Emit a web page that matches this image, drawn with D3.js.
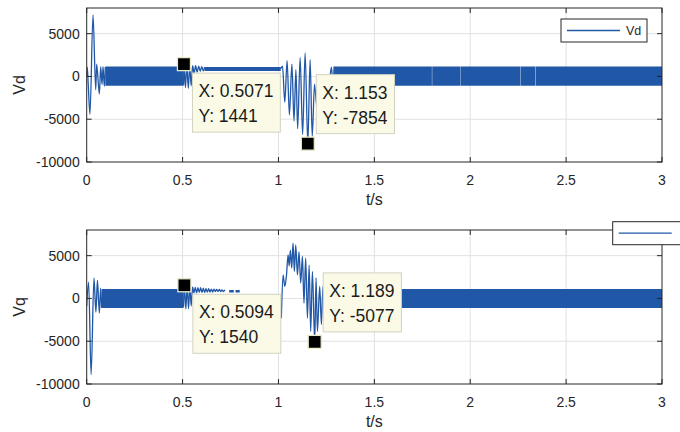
<!DOCTYPE html>
<html>
<head>
<meta charset="utf-8">
<script src="https://cdn.jsdelivr.net/npm/d3@7"></script>
<style>
  html, body { margin: 0; padding: 0; background: #fff; }
  svg { display: block; }
</style>
</head>
<body>
<svg id="chart" width="680" height="432"></svg>
<script>
// ---- data -------------------------------------------------------------
const timeTicks  = [0, 0.5, 1, 1.5, 2, 2.5, 3];
const timeLabels = ["0", "0.5", "1", "1.5", "2", "2.5", "3"];
const valueTicks = [-10000, -5000, 0, 5000];
const valueLabels = ["-10000", "-5000", "0", "5000"];

// Vd: resolved stretches of the waveform, [t (s), value]
const vdStartup = [[0,0],[0.003,1100],[0.008,-950],[0.017,-4400],[0.033,7200],[0.047,-1550],[0.052,1450],
  [0.066,-2050],[0.073,1150],[0.080,-950],[0.085,1150],[0.092,-1150],[0.097,1100]];
const vdStep = [[0.505,-1000],[0.5071,1441],[0.515,-1300],[0.522,1300],[0.530,-1400],[0.537,1250],[0.545,-1100],
  [0.552,1250],[0.560,400],[0.568,1250],[0.576,500],[0.584,1200],[0.592,600],[0.600,1150],[0.608,650],[0.615,1100]];
const vdFault = [[1.012,900],[1.021,1200],[1.033,-3000],[1.045,1850],[1.057,-4500],[1.070,1450],[1.081,-5200],
  [1.091,800],[1.100,-6100],[1.113,2200],[1.126,-6800],[1.139,2750],[1.153,-7854],[1.165,1950],[1.176,-7000],
  [1.188,-900],[1.200,-3500],[1.215,-200],[1.230,-2600],[1.245,-300],[1.260,-1800],[1.276,1100],[1.285,-1000],[1.290,1150]];
// Vd: stretches of fast ripple, [t from, t to, low, high]
const vdRipple = [[0.097,0.505,-1080,1150],[0.615,1.012,650,1100],
  [1.290,1.800,-1080,1150],[1.8018,1.950,-1080,1150],[1.9518,2.260,-1080,1150],
  [2.2618,2.340,-1080,1150],[2.3418,3.000,-1080,1150]];

// Vq
const vqStartup = [[0,-900],[0.010,1900],[0.023,-8900],[0.038,2400],[0.048,-1600],[0.056,2100],[0.066,-1700],
  [0.073,1200],[0.078,-1100]];
const vqStep = [[0.505,-1000],[0.5094,1540],[0.517,-1230],[0.524,1450],[0.531,-1200],[0.538,1350],[0.545,-900],
  [0.552,1350],[0.559,650],[0.566,1300],[0.573,650],[0.580,1250],[0.587,700],[0.594,1250],[0.601,700],[0.608,1200],
  [0.615,700],[0.622,1150],[0.629,750],[0.636,1150],[0.643,750],[0.650,1100],[0.657,750],[0.664,1100],[0.671,800],
  [0.678,1050],[0.685,800],[0.692,1050],[0.699,800],[0.706,1000],[0.713,800],[0.720,1000]];
const vqFault = [[1.015,-2300],[1.024,2750],[1.033,1400],[1.042,2750],[1.050,5100],[1.056,3800],[1.062,5650],
  [1.069,3550],[1.076,6450],[1.083,3150],[1.090,6250],[1.099,2750],[1.107,5450],[1.116,1800],[1.125,4900],
  [1.133,-550],[1.142,4700],[1.151,-2300],[1.160,3900],[1.168,-3850],[1.177,3150],[1.189,-5077],[1.196,2400],
  [1.203,-3850],[1.215,1400],[1.224,-3050],[1.232,1400],[1.242,-2500],[1.252,1100],[1.262,-1800],[1.272,1000],
  [1.282,-1200],[1.286,1100]];
const vqRipple = [[0.078,0.505,-1120,1100],[0.743,0.767,700,1000],[0.776,0.798,700,1000],
  [1.286,3.000,-1120,1100]];

// data tips: [t, value]
const vdTips = [[0.5071,1441],[1.153,-7854]];
const vqTips = [[0.5094,1540],[1.189,-5077]];

// ---- layout -----------------------------------------------------------
const FONT = '"Liberation Sans", Arial, Helvetica, sans-serif';
const LINE = "#2157a7";
const AXIS = "#262626";
const GRID = "#e1e1e1";

const left = 86.7, right = 662;
const panels = [
  { top: 8,   bottom: 162, name: "Vd", paths: [vdStartup, vdStep, vdFault], ripple: vdRipple, tips: vdTips,
    tipSide: ["below", "above"], legend: { x: 561, y: 19, w: 86, showText: true } },
  { top: 230, bottom: 384, name: "Vq", paths: [vqStartup, vqStep, vqFault], ripple: vqRipple, tips: vqTips,
    tipSide: ["below", "above"], legend: { x: 612.7, y: 221.7, w: 86, showText: false } }
];

const svg = d3.select("#chart");
const x = d3.scaleLinear().domain([0, 3]).range([left, right]);

panels.forEach((p, i) => {
  const y = d3.scaleLinear().domain([-10000, 8000]).range([p.bottom, p.top]);
  const g = svg.append("g");

  // grid
  g.append("g").selectAll("line").data(timeTicks.slice(1, -1)).join("line")
    .attr("x1", d => x(d)).attr("x2", d => x(d))
    .attr("y1", p.top).attr("y2", p.bottom)
    .attr("stroke", GRID).attr("stroke-width", 1);
  g.append("g").selectAll("line").data(valueTicks.slice(1)).join("line")
    .attr("x1", left).attr("x2", right)
    .attr("y1", d => y(d)).attr("y2", d => y(d))
    .attr("stroke", GRID).attr("stroke-width", 1);

  // clip for the waveform
  const clipId = "clip" + i;
  svg.append("clipPath").attr("id", clipId).append("rect")
    .attr("x", left).attr("y", p.top).attr("width", right - left).attr("height", p.bottom - p.top);

  const data = g.append("g").attr("clip-path", `url(#${clipId})`);

  // fast ripple bands
  const band = d3.area()
    .x(d => x(d.t)).y0(d => y(d.lo)).y1(d => y(d.hi));
  data.selectAll("path.band").data(p.ripple).join("path")
    .attr("class", "band")
    .attr("d", r => band([{ t: r[0], lo: r[2], hi: r[3] }, { t: r[1], lo: r[2], hi: r[3] }]))
    .attr("fill", LINE);

  // resolved waveform
  const line = d3.line().x(d => x(d[0])).y(d => y(d[1])).curve(d3.curveMonotoneX);
  data.selectAll("path.wave").data(p.paths).join("path")
    .attr("class", "wave")
    .attr("d", line)
    .attr("fill", "none").attr("stroke", LINE).attr("stroke-width", 1.3)
    .attr("stroke-linejoin", "round");

  // axes box
  g.append("rect").attr("x", left).attr("y", p.top)
    .attr("width", right - left).attr("height", p.bottom - p.top)
    .attr("fill", "none").attr("stroke", AXIS).attr("stroke-width", 1);

  // tick marks on all four sides, pointing inward
  const tl = 5;
  const xt = g.append("g").attr("stroke", AXIS).attr("stroke-width", 1);
  timeTicks.forEach(t => {
    xt.append("line").attr("x1", x(t)).attr("x2", x(t)).attr("y1", p.bottom).attr("y2", p.bottom - tl);
    xt.append("line").attr("x1", x(t)).attr("x2", x(t)).attr("y1", p.top).attr("y2", p.top + tl);
  });
  valueTicks.forEach(v => {
    xt.append("line").attr("x1", left).attr("x2", left + tl).attr("y1", y(v)).attr("y2", y(v));
    xt.append("line").attr("x1", right).attr("x2", right - tl).attr("y1", y(v)).attr("y2", y(v));
  });

  // tick labels
  g.append("g").selectAll("text").data(timeTicks).join("text")
    .attr("x", d => x(d)).attr("y", p.bottom + 23)
    .attr("text-anchor", "middle")
    .attr("font-family", FONT).attr("font-size", 14).attr("fill", AXIS)
    .text((d, k) => timeLabels[k]);
  g.append("g").selectAll("text").data(valueTicks).join("text")
    .attr("x", left - 7).attr("y", d => y(d)).attr("dy", "0.36em")
    .attr("text-anchor", "end")
    .attr("font-family", FONT).attr("font-size", 14).attr("fill", AXIS)
    .text((d, k) => valueLabels[k]);

  // axis titles
  g.append("text").attr("x", (left + right) / 2).attr("y", p.bottom + 43)
    .attr("text-anchor", "middle").attr("font-family", FONT).attr("font-size", 16).attr("fill", AXIS)
    .text("t/s");
  g.append("text")
    .attr("transform", `translate(25,${(p.top + p.bottom) / 2}) rotate(-90)`)
    .attr("text-anchor", "middle").attr("font-family", FONT).attr("font-size", 16).attr("fill", AXIS)
    .text(p.name);

  // data tips
  p.tips.forEach((tip, k) => {
    const px = x(tip[0]), py = y(tip[1]);
    const tg = g.append("g");
    const box = tg.append("rect").attr("fill", "#fafae7").attr("stroke", "#d2d2c2").attr("stroke-width", 1);
    const t1 = tg.append("text").attr("font-family", FONT).attr("font-size", 17.5).attr("fill", "#1a1a1a")
      .text("X: " + tip[0]);
    const t2 = tg.append("text").attr("font-family", FONT).attr("font-size", 17.5).attr("fill", "#1a1a1a")
      .text("Y: " + tip[1]);
    const w = Math.max(t1.node().getComputedTextLength(), t2.node().getComputedTextLength()) + 13;
    const h = 59;
    const bx = px + 8.5;
    const by = p.tipSide[k] === "below" ? py + 9 : py - 69;
    box.attr("x", bx).attr("y", by).attr("width", w).attr("height", h);
    t1.attr("x", bx + 6).attr("y", by + 24);
    t2.attr("x", bx + 6).attr("y", by + 49);
    tg.append("rect").attr("x", px - 6.5).attr("y", py - 6.5).attr("width", 13).attr("height", 13)
      .attr("fill", "#000").attr("stroke", "#e9e9c8").attr("stroke-width", 1.3);
  });

  // legend
  const L = p.legend;
  const lg = g.append("g");
  lg.append("rect").attr("x", L.x).attr("y", L.y).attr("width", L.w).attr("height", 23)
    .attr("fill", "#fff").attr("stroke", AXIS).attr("stroke-width", 1);
  lg.append("line").attr("x1", L.x + 6).attr("x2", L.x + 59)
    .attr("y1", L.y + 11.5).attr("y2", L.y + 11.5)
    .attr("stroke", LINE).attr("stroke-width", 1.3);
  if (L.showText) {
    lg.append("text").attr("x", L.x + 65).attr("y", L.y + 16)
      .attr("font-family", FONT).attr("font-size", 12.5).attr("fill", AXIS)
      .text(p.name);
  }
});
</script>
</body>
</html>
